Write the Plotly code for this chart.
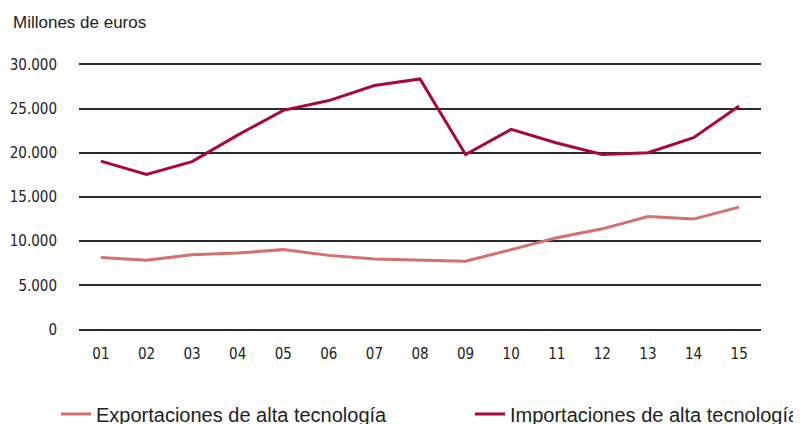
import plotly.graph_objects as go

years = ["01", "02", "03", "04", "05", "06", "07", "08", "09", "10", "11", "12", "13", "14", "15"]
exportaciones = [8150, 7850, 8480, 8670, 9050, 8400, 8000, 7900, 7750, 9050, 10400, 11400, 12800, 12500, 13850]
importaciones = [19050, 17550, 19000, 22000, 24800, 25900, 27600, 28350, 19800, 22650, 21100, 19800, 20000, 21700, 25300]
y_ticks = [0, 5000, 10000, 15000, 20000, 25000, 30000]

name_exp = "Exportaciones de alta tecnología"
name_imp = "Importaciones de alta tecnología"
color_exp = "#d4706e"
color_imp = "#a8083a"

W, H = 793, 416

tick_font = dict(family="Liberation Sans Narrow, DejaVu Sans Condensed, sans-serif", size=15, color="#222222")
legend_font = dict(family="Liberation Sans, Arial, sans-serif", size=20, color="#222222")

fig = go.Figure()
fig.add_trace(go.Scatter(x=years, y=exportaciones, mode="lines", name=name_exp,
                         line=dict(color=color_exp, width=3), legend="legend"))
fig.add_trace(go.Scatter(x=years, y=importaciones, mode="lines", name=name_imp,
                         line=dict(color=color_imp, width=3), legend="legend2"))

fig.update_layout(
    width=W, height=H,
    margin=dict(l=71, r=40, t=55, b=93, autoexpand=False),
    paper_bgcolor="white", plot_bgcolor="white",
    separators=",.",
    font=dict(family="Liberation Sans, Arial, sans-serif", color="#222222"),
    xaxis=dict(type="category", range=[-0.48, 14.48], showgrid=False, zeroline=False,
               showline=False, ticks="", tickfont=tick_font, ticklabelstandoff=12, automargin=False),
    yaxis=dict(range=[-150, 30150], tickvals=y_ticks, tickformat=",d",
               showgrid=True, gridcolor="#2a2a2a", gridwidth=1.5, zeroline=False,
               showline=False, ticks="", tickfont=tick_font, ticklabelstandoff=21, automargin=False),
    showlegend=True,
    legend=dict(orientation="h", xref="container", x=48/W, xanchor="left", yref="container", y=1 - 406/H,
                yanchor="middle", font=legend_font, bgcolor="rgba(0,0,0,0)"),
    legend2=dict(orientation="h", xref="container", x=462/W, xanchor="left", yref="container", y=1 - 406/H,
                 yanchor="middle", font=legend_font, bgcolor="rgba(0,0,0,0)"),
    annotations=[dict(text="Millones de euros", xref="paper", yref="paper", x=-0.0997, y=1.1515,
                      xanchor="left", yanchor="middle", showarrow=False,
                      font=dict(family="Liberation Sans, Arial, sans-serif", size=17, color="#222222"))],
)

fig.write_html("out.html")
